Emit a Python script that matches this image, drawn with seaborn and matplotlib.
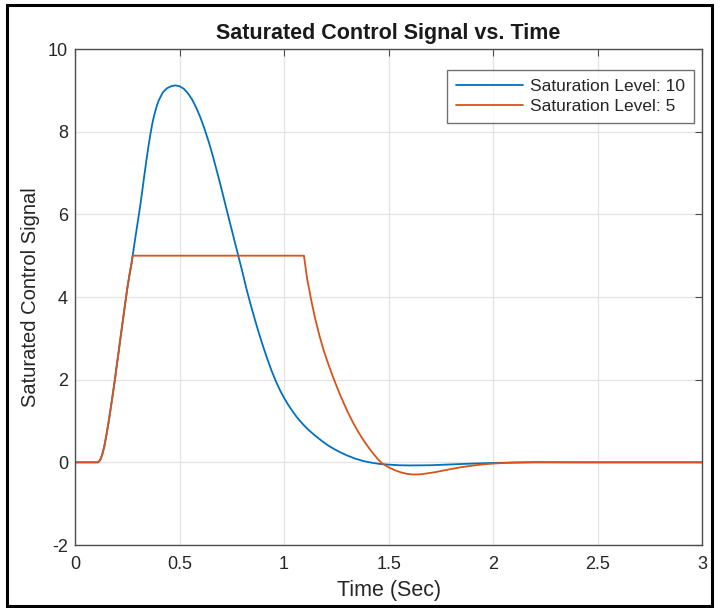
import matplotlib
matplotlib.use("Agg")
import matplotlib.pyplot as plt
import seaborn as sns
import pandas as pd
from matplotlib.patches import Rectangle

# Saturation level 10 (never clipped)
t_sat10 = [0.00, 0.11, 0.12, 0.13, 0.14, 0.15, 0.16, 0.17, 0.18, 0.19, 0.20,
           0.21, 0.22, 0.23, 0.24, 0.25, 0.26, 0.27, 0.28, 0.29, 0.30, 0.31,
           0.32, 0.33, 0.34, 0.35, 0.36, 0.37, 0.38, 0.39, 0.40, 0.42, 0.44,
           0.46, 0.48, 0.50, 0.52, 0.54, 0.56, 0.58, 0.60, 0.62, 0.64, 0.66,
           0.68, 0.70, 0.72, 0.74, 0.76, 0.78, 0.80, 0.82, 0.84, 0.86, 0.88,
           0.90, 0.92, 0.94, 0.96, 0.98, 1.00, 1.02, 1.04, 1.06, 1.08, 1.10,
           1.12, 1.15, 1.18, 1.21, 1.24, 1.27, 1.30, 1.34, 1.38, 1.42, 1.46,
           1.50, 1.55, 1.60, 1.70, 1.80, 1.90, 2.00, 2.10, 2.20, 3.00]
u_sat10 = [0.0, 0.0, 0.05, 0.18, 0.38, 0.65, 0.95, 1.28, 1.62, 1.97, 2.35,
           2.72, 3.1, 3.47, 3.84, 4.2, 4.52, 4.8, 5.14, 5.48, 5.81, 6.14,
           6.5, 6.88, 7.25, 7.6, 7.92, 8.2, 8.42, 8.6, 8.75, 8.95, 9.05,
           9.1, 9.12, 9.1, 9.04, 8.93, 8.78, 8.58, 8.34, 8.06, 7.75, 7.4,
           7.02, 6.63, 6.22, 5.82, 5.42, 5.02, 4.62, 4.2, 3.82, 3.46, 3.12,
           2.8, 2.5, 2.22, 1.97, 1.75, 1.56, 1.39, 1.24, 1.1, 0.98, 0.87,
           0.77, 0.64, 0.52, 0.41, 0.32, 0.24, 0.17, 0.09, 0.03, -0.01, -0.04,
           -0.055, -0.07, -0.075, -0.07, -0.05, -0.03, -0.015, -0.005, 0.0, 0.0]

# Saturation level 5
t_sat5 = [0.00, 0.11, 0.12, 0.13, 0.14, 0.15, 0.16, 0.17, 0.18, 0.19, 0.20,
          0.21, 0.22, 0.23, 0.24, 0.25, 0.26, 0.27, 0.276, 1.095, 1.11, 1.13,
          1.15, 1.17, 1.19, 1.21, 1.23, 1.25, 1.27, 1.29, 1.31, 1.33, 1.35,
          1.37, 1.39, 1.41, 1.43, 1.45, 1.47, 1.50, 1.53, 1.56, 1.59, 1.62,
          1.65, 1.68, 1.72, 1.76, 1.80, 1.85, 1.90, 1.95, 2.00, 2.05, 2.10,
          2.20, 2.40, 3.00]
u_sat5 = [0.0, 0.0, 0.05, 0.18, 0.38, 0.65, 0.95, 1.28, 1.62, 1.97, 2.35,
          2.72, 3.1, 3.47, 3.84, 4.2, 4.52, 4.8, 5.0, 5.0, 4.45, 3.92,
          3.45, 3.05, 2.7, 2.4, 2.12, 1.86, 1.61, 1.38, 1.16, 0.96, 0.78,
          0.61, 0.46, 0.32, 0.19, 0.07, -0.03, -0.12, -0.19, -0.245, -0.28, -0.295,
          -0.29, -0.27, -0.24, -0.2, -0.16, -0.115, -0.08, -0.05, -0.03, -0.015, -0.005,
          0.005, 0.0, 0.0]

labels = ["Saturation Level: 10", "Saturation Level: 5"]
colors = ["#0072BD", "#D95319"]

df = pd.concat([
    pd.DataFrame({"t": t_sat10, "u": u_sat10, "series": labels[0]}),
    pd.DataFrame({"t": t_sat5, "u": u_sat5, "series": labels[1]}),
])

sns.set_theme(style="white")
plt.rcParams["font.family"] = ["Liberation Sans", "DejaVu Sans"]
plt.rcParams["axes.unicode_minus"] = False

fig = plt.figure(figsize=(7.21, 6.08), dpi=100)
ax = fig.add_axes([0.104, 0.1036, 0.870, 0.8158])

sns.lineplot(data=df, x="t", y="u", hue="series", palette=colors,
             estimator=None, sort=False, linewidth=1.3, ax=ax)

ax.set_xlim(0, 3)
ax.set_ylim(-2, 10)
ax.set_xticks([0, 0.5, 1, 1.5, 2, 2.5, 3])
ax.set_xticklabels(["0", "0.5", "1", "1.5", "2", "2.5", "3"])
ax.set_yticks([-2, 0, 2, 4, 6, 8, 10])
ax.grid(True, color="#e3e3e3", linewidth=0.9)
ax.set_axisbelow(True)
for s in ax.spines.values():
    s.set_color("#4d4d4d")
    s.set_linewidth(1.0)
ax.tick_params(direction="in", length=5, width=0.8, color="#4d4d4d",
               top=True, right=True, labelsize=13, labelcolor="#262626")
ax.tick_params(axis="x", pad=8)
ax.tick_params(axis="y", pad=5)

ax.set_title("Saturated Control Signal vs. Time", fontsize=15.5, fontweight="bold",
             color="#1a1a1a", pad=7)
ax.set_xlabel("Time (Sec)", fontsize=15.5, color="#262626", labelpad=5)
ax.set_ylabel("Saturated Control Signal", fontsize=14.5, color="#262626", labelpad=6)

leg = ax.legend(loc="upper right", bbox_to_anchor=(0.987, 0.958), fontsize=12.5,
                frameon=True, fancybox=False, edgecolor="#4d4d4d",
                handlelength=3.9, borderpad=0.5, labelspacing=0.3,
                handletextpad=0.4, borderaxespad=0)
leg.get_frame().set_linewidth(1.0)

# outer black frame of the screenshot
fig.patches.append(Rectangle((0.0097, 0.003), 0.978, 0.989, transform=fig.transFigure,
                             fill=False, edgecolor="black", linewidth=2.2))

fig.savefig("out.png", dpi=100)
